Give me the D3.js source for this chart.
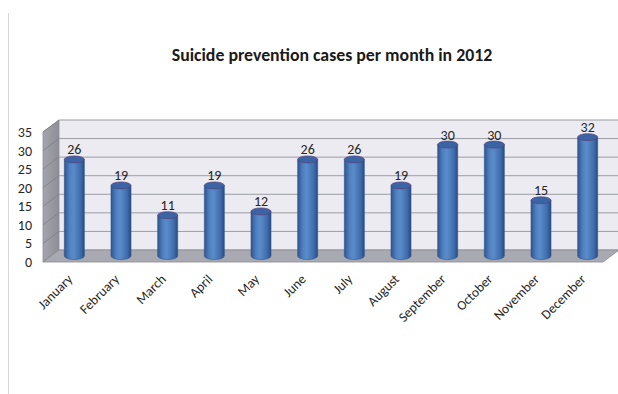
<!DOCTYPE html>
<html>
<head>
<meta charset="utf-8">
<script src="https://cdn.jsdelivr.net/npm/d3@7"></script>
<style>
  html, body { margin: 0; padding: 0; background: #fff; }
  svg { display: block; }
</style>
</head>
<body>
<svg id="chart" width="618" height="394"></svg>
<script>
const months = ["January","February","March","April","May","June","July","August","September","October","November","December"];
const cases = [26,19,11,19,12,26,26,19,30,30,15,32];
const yTicks = [0,5,10,15,20,25,30,35];
const title = "Suicide prevention cases per month in 2012";

const svg = d3.select("#chart");
const W = 618, H = 394;
const font = "Carlito, Calibri, 'Noto Sans', 'Open Sans', sans-serif";

// front plane
const x = d3.scaleBand().domain(months).range([43, 603]).paddingInner(0).paddingOuter(0);
const y = d3.scaleLinear().domain([0, 35]).range([262, 132]);
const DX = 16, DY = -12;      // depth offset
const BX = 8, BY = -6;        // bar depth (mid)

const defs = svg.append("defs");
const bg = defs.append("linearGradient").attr("id","barGrad").attr("x1","0").attr("x2","1").attr("y1","0").attr("y2","0");
bg.append("stop").attr("offset","0%").attr("stop-color","#2e5590");
bg.append("stop").attr("offset","25%").attr("stop-color","#4f7fbf");
bg.append("stop").attr("offset","45%").attr("stop-color","#5b8cca");
bg.append("stop").attr("offset","80%").attr("stop-color","#3f6ead");
bg.append("stop").attr("offset","100%").attr("stop-color","#274c85");
const lw = defs.append("linearGradient").attr("id","leftWall").attr("x1","0").attr("x2","1").attr("y1","0").attr("y2","0");
lw.append("stop").attr("offset","0%").attr("stop-color","#a4a4ac");
lw.append("stop").attr("offset","100%").attr("stop-color","#8e8e98");

// border line on left
svg.append("line").attr("x1",8.5).attr("x2",8.5).attr("y1",13).attr("y2",H).attr("stroke","#d9d9d9").attr("stroke-width",1);

// title
svg.append("text").attr("x", 332).attr("y", 61).attr("text-anchor","middle")
  .attr("font-family", font).attr("font-weight","bold").attr("font-size", 17.8).attr("fill","#1a1a1a")
  .text(title);

const x0 = 43, x1 = 603;
// back wall
svg.append("polygon")
  .attr("points", [[x0+DX, y(35)+DY],[x1+DX+2, y(35)+DY],[x1+DX+2, y(0)+DY],[x0+DX, y(0)+DY]].map(p=>p.join(",")).join(" "))
  .attr("fill","#ebebf1").attr("stroke","none");
// left wall
svg.append("polygon")
  .attr("points", [[x0, y(0)],[x0, y(35)],[x0+DX, y(35)+DY],[x0+DX, y(0)+DY]].map(p=>p.join(",")).join(" "))
  .attr("fill","url(#leftWall)").attr("stroke","#8a8a92").attr("stroke-width",0.8);
// gridlines
yTicks.forEach(t => {
  svg.append("line").attr("x1", x0+DX).attr("x2", W).attr("y1", y(t)+DY).attr("y2", y(t)+DY)
    .attr("stroke","#9c9ca4").attr("stroke-width",1);
  svg.append("line").attr("x1", x0).attr("x2", x0+DX).attr("y1", y(t)).attr("y2", y(t)+DY)
    .attr("stroke","#7e7e88").attr("stroke-width",0.8);
});
// floor
svg.append("polygon")
  .attr("points", [[x0, y(0)],[x1, y(0)],[x1+DX, y(0)+DY],[x0+DX, y(0)+DY]].map(p=>p.join(",")).join(" "))
  .attr("fill","#a9a9b1").attr("stroke","#8c8c94").attr("stroke-width",0.8);

// y axis labels
svg.append("g").selectAll("text").data(yTicks).join("text")
  .attr("x", 32).attr("y", d => y(d) + 5).attr("text-anchor","end")
  .attr("font-family", font).attr("font-size", 14).attr("fill","#262626")
  .text(d => d);

// bars
const bw = 20, ry = 3.5;
const bars = svg.append("g").selectAll("g").data(months).join("g");
bars.each(function(m, i) {
  const g = d3.select(this);
  const cx = x(m) + x.bandwidth()/2 + BX;
  const yb = y(0) + BY, yt = y(cases[i]) + BY;
  g.append("path")
    .attr("d", `M${cx-bw/2},${yt} L${cx-bw/2},${yb} A${bw/2},${ry} 0 0 0 ${cx+bw/2},${yb} L${cx+bw/2},${yt} Z`)
    .attr("fill","url(#barGrad)").attr("stroke","#2f5288").attr("stroke-width",0.6);
  g.append("ellipse").attr("cx", cx).attr("cy", yt).attr("rx", bw/2).attr("ry", ry)
    .attr("fill","#3a64a4").attr("stroke","#5a3f7a").attr("stroke-width",0.7);
  g.append("text").attr("x", cx).attr("y", yt - 5).attr("text-anchor","middle")
    .attr("font-family", font).attr("font-size", 14).attr("fill","#262626")
    .text(cases[i]);
});

// x labels
svg.append("g").selectAll("text").data(months).join("text")
  .attr("transform", d => `translate(${x(d) + x.bandwidth()/2 + 7},${280}) rotate(-45)`)
  .attr("text-anchor","end")
  .attr("font-family", font).attr("font-size", 13.5).attr("fill","#262626")
  .text(d => d);
</script>
</body>
</html>
